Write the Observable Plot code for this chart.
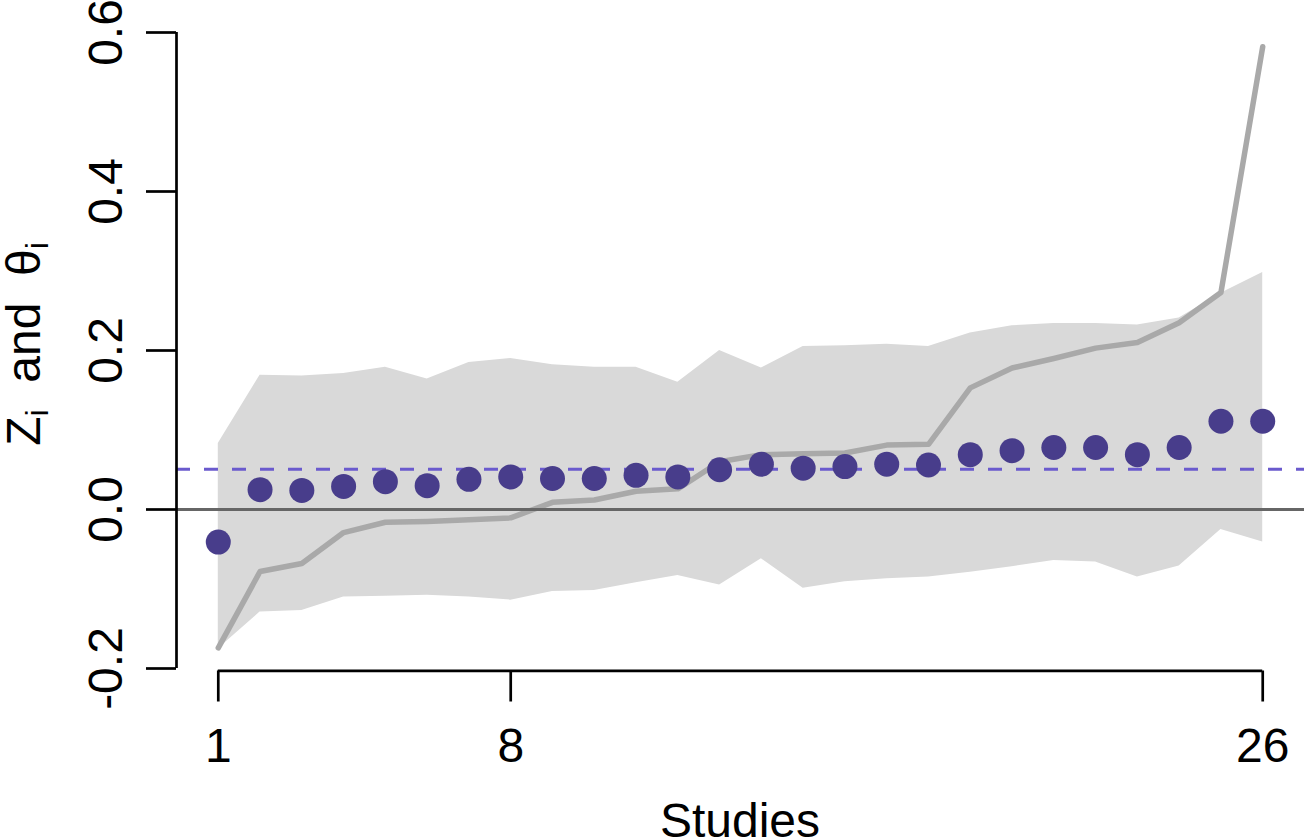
<!DOCTYPE html>
<html>
<head>
<meta charset="utf-8">
<script src="https://cdn.jsdelivr.net/npm/d3@7"></script>
<script src="https://cdn.jsdelivr.net/npm/@observablehq/plot@0.6"></script>
<style>
  html, body { margin: 0; padding: 0; background: #fff; }
  #chart svg { display: block; }
</style>
</head>
<body>
<div id="chart"></div>
<script>
// ---- data ----
const studies = d3.range(1, 27);
const zValues = [-0.041, 0.025, 0.024, 0.029, 0.035, 0.030, 0.038, 0.041, 0.039, 0.039, 0.043, 0.041, 0.050,
                 0.057, 0.052, 0.054, 0.057, 0.056, 0.069, 0.074, 0.078, 0.078, 0.069, 0.078, 0.111, 0.111];
const thetaValues = [-0.174, -0.078, -0.068, -0.029, -0.016, -0.015, -0.013, -0.0105, 0.009, 0.012, 0.023, 0.026, 0.060,
                     0.069, 0.070, 0.071, 0.081, 0.082, 0.153, 0.178, 0.190, 0.203, 0.210, 0.235, 0.273, 0.582];
const bandLower = [-0.175, -0.129, -0.127, -0.110, -0.109, -0.108, -0.110, -0.114, -0.103, -0.102, -0.092, -0.083, -0.095,
                   -0.062, -0.099, -0.091, -0.087, -0.085, -0.079, -0.072, -0.064, -0.066, -0.085, -0.071, -0.025, -0.041];
const bandUpper = [0.083, 0.169, 0.168, 0.171, 0.179, 0.164, 0.185, 0.190, 0.182, 0.179, 0.179, 0.160, 0.200,
                   0.178, 0.205, 0.206, 0.208, 0.205, 0.222, 0.231, 0.234, 0.234, 0.232, 0.241, 0.272, 0.298];
const meanEffect = 0.0505;
const xTicks = [1, 8, 26];
const yTicks = [-0.2, 0.0, 0.2, 0.4, 0.6];
const xLabel = "Studies";

const rows = studies.map((s, i) => ({
  study: s, z: zValues[i], theta: thetaValues[i], lo: bandLower[i], hi: bandUpper[i]
}));

// plot region in data units (R-style 4% padding on x)
const xRegion = [0, 27];
const yBottom = -0.2031; // bottom edge of the plot region, where the x axis sits

const chart = Plot.plot({
  width: 1306,
  height: 840,
  marginLeft: 176,
  marginRight: 2,
  marginTop: 0,
  marginBottom: 169.5,
  style: {
    fontFamily: '"Liberation Sans", Arial, Helvetica, sans-serif',
    fontSize: "48px",
    color: "#000",
    background: "#fff",
    overflow: "visible"
  },
  x: {domain: xRegion},
  y: {domain: [-0.2, 0.6], range: [668, 32]},
  marks: [
    Plot.areaY(rows, {x: "study", y1: "lo", y2: "hi", fill: "#D9D9D9"}),
    Plot.line(rows, {x: "study", y: "theta", stroke: "#A9A9A9", strokeWidth: 5.5}),
    Plot.ruleY([0], {x1: xRegion[0], x2: xRegion[1], stroke: "#666666", strokeWidth: 3}),
    Plot.ruleY([meanEffect], {x1: xRegion[0], x2: xRegion[1], stroke: "#6A5ACD", strokeWidth: 3, strokeDasharray: "14,14"}),
    Plot.dot(rows, {x: "study", y: "z", r: 12.5, fill: "#483D8B"}),
    Plot.axisX({ticks: xTicks, tickSize: 31, tickPadding: 25.5, tickFormat: d => String(d), strokeWidth: 2.7, label: null}),
    Plot.axisY({ticks: yTicks, tickSize: 30, tickPadding: 25, tickRotate: -90, tickFormat: d => d.toFixed(1), strokeWidth: 2.7, label: null}),
    Plot.ruleX([xRegion[0]], {y1: yTicks[0], y2: yTicks[yTicks.length - 1], stroke: "#000", strokeWidth: 2.7}),
    Plot.ruleY([yBottom], {x1: xTicks[0], x2: xTicks[xTicks.length - 1], stroke: "#000", strokeWidth: 2.7})
  ]
});

const svg = d3.select(chart);

// y-axis title: Z_i and θ_i
const yt = svg.append("text")
  .attr("transform", "translate(40,344) rotate(-90)")
  .attr("text-anchor", "middle")
  .attr("font-size", 48)
  .attr("fill", "#000")
  .style("white-space", "pre");
yt.append("tspan").text("Z");
yt.append("tspan").attr("font-size", 32).attr("dy", 8).text("i");
yt.append("tspan").attr("dy", -8).text("\u00A0\u00A0and\u00A0\u00A0θ");
yt.append("tspan").attr("font-size", 32).attr("dy", 8).text("i");

// x-axis title
svg.append("text")
  .attr("x", 740)
  .attr("y", 837)
  .attr("text-anchor", "middle")
  .attr("font-size", 48)
  .attr("fill", "#000")
  .text(xLabel);

document.getElementById("chart").appendChild(chart);
</script>
</body>
</html>
